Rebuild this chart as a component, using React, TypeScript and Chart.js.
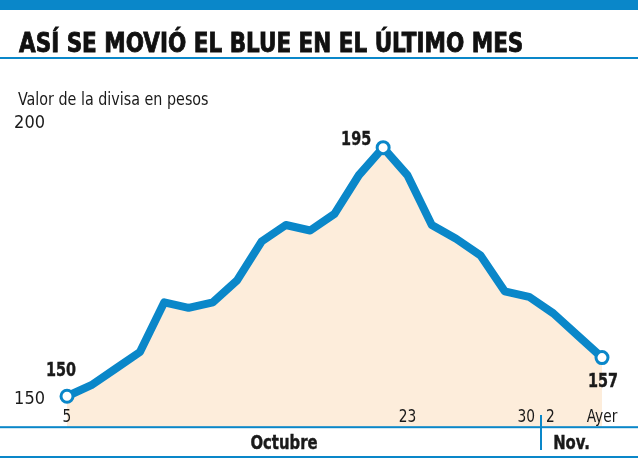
import React, { useEffect, useRef } from 'react';
import { Chart, registerables } from 'chart.js';

Chart.register(...registerables);

// ---- Data ----
const categories = ['5', '6', '7', '8', '9', '12', '13', '14', '15', '16', '19', '20', '21', '22', '23', '26', '27', '28', '29', '30', '2', '3', 'Ayer'];
const shownTicks = ['5', '23', '30', '2', 'Ayer'];
const values = [150, 152, 155, 158, 167, 166, 167, 171, 178, 181, 180, 183, 190, 195, 190, 181, 178.5, 175.5, 169, 168, 165, 161, 157];
const yTicks = [150, 200];
const yMin = 144.4;
const yMax = 200;
const monthLabels = ['Octubre', 'Nov.'];
const novStartCategory = '2';
const TITLE = 'ASÍ SE MOVIÓ EL BLUE EN EL ÚLTIMO MES';
const SUBTITLE = 'Valor de la divisa en pesos';

// ---- Styles ----
const BLUE = '#0a87c9';
const FILL = '#fdeddb';
const TEXT = '#1a1a1a';
const COND = "'DejaVu Sans Condensed', 'Liberation Sans Narrow', 'Roboto Condensed', Roboto, sans-serif";

const iFirst = 0;
const iLast = values.length - 1;
const iMax = values.indexOf(Math.max(...values));
const highlighted = [iFirst, iMax, iLast];

function squeezeText(ctx: CanvasRenderingContext2D, text: string, x: number, y: number, sx: number, heavy = false) {
  ctx.save();
  ctx.translate(x, y);
  ctx.scale(sx, 1);
  ctx.fillText(text, 0, 0);
  if (heavy) {
    ctx.lineWidth = 0.4;
    ctx.strokeStyle = ctx.fillStyle as string;
    ctx.strokeText(text, 0, 0);
  }
  ctx.restore();
}

const overlayPlugin = {
  id: 'overlay',
  afterDraw(chart: any) {
    const { ctx, chartArea, width } = chart;
    const meta = chart.getDatasetMeta(0);
    const xScale = chart.scales.x;
    ctx.save();
    // horizontal rules
    ctx.fillStyle = BLUE;
    ctx.fillRect(0, chartArea.bottom - 1, width, 2);
    ctx.fillRect(0, 456, width, 2);
    // month separator
    const novIdx = categories.indexOf(novStartCategory);
    const sepX = Math.round((xScale.getPixelForValue(novIdx - 1) + xScale.getPixelForValue(novIdx)) / 2);
    ctx.fillRect(sepX - 1, 415, 2, 35);
    // day tick labels (inside the plot, above the baseline)
    ctx.fillStyle = TEXT;
    ctx.textBaseline = 'middle';
    ctx.font = `18px ${COND}`;
    const ty = chartArea.bottom - 10;
    categories.forEach((lab, i) => {
      if (!shownTicks.includes(lab)) return;
      if (i === novIdx - 1) {
        ctx.textAlign = 'right';
        squeezeText(ctx, lab, sepX - 6, ty, 0.85);
      } else if (i === novIdx) {
        ctx.textAlign = 'left';
        squeezeText(ctx, lab, sepX + 5, ty, 0.85);
      } else {
        ctx.textAlign = 'center';
        squeezeText(ctx, lab, xScale.getPixelForValue(i), ty, 0.85);
      }
    });
    // month labels
    ctx.textAlign = 'center';
    ctx.font = `bold 19px ${COND}`;
    squeezeText(ctx, monthLabels[0], 284, 444, 0.87, true);
    squeezeText(ctx, monthLabels[1], (sepX + chartArea.right) / 2, 444, 0.87, true);
    // value labels
    ctx.font = `bold 20px ${COND}`;
    const pF = meta.data[iFirst];
    squeezeText(ctx, String(values[iFirst]), pF.x - 6, pF.y - 25, 0.8, true);
    const pM = meta.data[iMax];
    squeezeText(ctx, String(values[iMax]), pM.x - 27, pM.y - 8, 0.8, true);
    const pL = meta.data[iLast];
    squeezeText(ctx, String(values[iLast]), pL.x + 1, pL.y + 24, 0.8, true);
    ctx.restore();
  },
};

export default function App() {
  const canvasRef = useRef<HTMLCanvasElement>(null);
  const titleRef = useRef<HTMLDivElement>(null);
  const subRef = useRef<HTMLDivElement>(null);

  useEffect(() => {
    if (titleRef.current) {
      const w = titleRef.current.offsetWidth;
      titleRef.current.style.transform = `scaleX(${504 / w})`;
    }
    if (subRef.current) {
      const w = subRef.current.offsetWidth;
      subRef.current.style.transform = `scaleX(${191 / w})`;
    }
    const chart = new Chart(canvasRef.current as HTMLCanvasElement, {
      type: 'line',
      data: {
        labels: categories,
        datasets: [
          {
            data: values,
            borderColor: BLUE,
            borderWidth: 8,
            borderJoinStyle: 'round',
            borderCapStyle: 'round',
            backgroundColor: FILL,
            fill: 'start',
            tension: 0,
            clip: false as any,
            pointRadius: (c: any) => (highlighted.includes(c.dataIndex) ? 6 : 0),
            pointHoverRadius: (c: any) => (highlighted.includes(c.dataIndex) ? 6 : 0),
            pointBorderWidth: 3,
            pointBackgroundColor: '#ffffff',
            pointBorderColor: BLUE,
          },
        ],
      },
      options: {
        animation: false,
        responsive: false,
        devicePixelRatio: 1,
        layout: { padding: { left: 0, right: 36, top: 120, bottom: 0 } },
        plugins: {
          legend: { display: false },
          tooltip: { enabled: false },
          title: { display: false },
        },
        scales: {
          x: {
            type: 'category',
            offset: false,
            grid: { display: false, drawTicks: false },
            border: { display: false },
            afterFit: (s: any) => { s.height = 30; },
            ticks: { display: false },
          },
          y: {
            min: yMin,
            max: yMax,
            grid: { display: false, drawTicks: false },
            border: { display: false },
            afterFit: (s: any) => { s.width = 67; },
            afterBuildTicks: (s: any) => { s.ticks = yTicks.map((v) => ({ value: v })); },
            ticks: {
              padding: 22,
              labelOffset: 3,
              color: TEXT,
              font: { family: COND, size: 18 },
            },
          },
        },
      },
      plugins: [overlayPlugin],
    });
    return () => chart.destroy();
  }, []);

  return (
    <div style={{ position: 'absolute', left: 0, top: 0, width: 638, height: 460, background: '#ffffff', overflow: 'hidden' }}>
      <canvas ref={canvasRef} width={638} height={460} style={{ position: 'absolute', left: 0, top: 0 }} />
      <div style={{ position: 'absolute', left: 0, top: 0, width: 638, height: 10, background: BLUE }} />
      <div
        ref={titleRef}
        style={{
          position: 'absolute', left: 19, top: 30, whiteSpace: 'nowrap',
          font: `bold 26px/26px ${COND}`, color: '#111', transformOrigin: 'left top',
          WebkitTextStroke: '0.8px #111',
        }}
      >
        {TITLE}
      </div>
      <div style={{ position: 'absolute', left: 0, top: 57, width: 638, height: 2, background: BLUE }} />
      <div
        ref={subRef}
        style={{
          position: 'absolute', left: 18, top: 90, whiteSpace: 'nowrap',
          font: `18px/18px ${COND}`, color: TEXT, transformOrigin: 'left top',
        }}
      >
        {SUBTITLE}
      </div>
    </div>
  );
}
